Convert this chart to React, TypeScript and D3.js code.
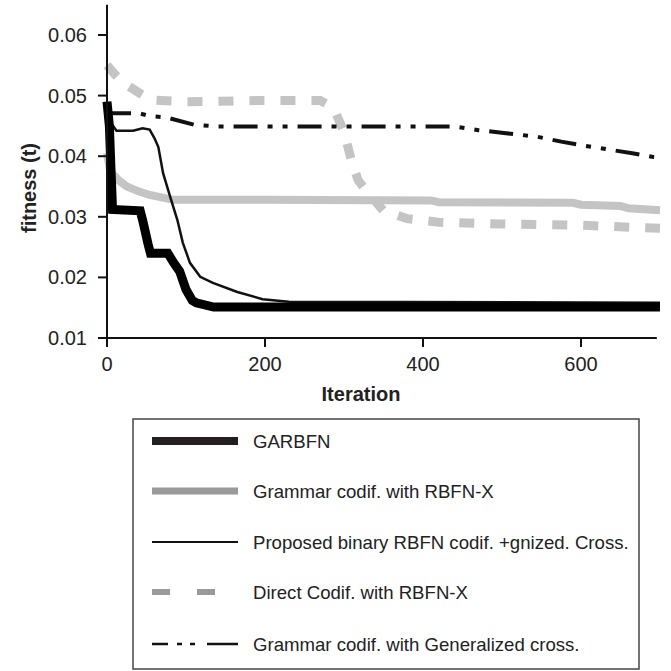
import React from 'react';
import * as d3 from 'd3';

type Pt = [number, number];

// iteration, fitness (t)
const garbfn: Pt[] = [
  [0, 0.049], [3, 0.045], [5, 0.038], [7, 0.0312], [42, 0.031], [45, 0.0295],
  [52, 0.0255], [55, 0.024], [77, 0.024], [84, 0.0225], [92, 0.021], [100, 0.018],
  [108, 0.0162], [113, 0.0158], [135, 0.0151], [700, 0.0151],
];

const grammarRbfnx: Pt[] = [
  [0, 0.0405], [4, 0.0375], [15, 0.036], [25, 0.035], [40, 0.0342], [54, 0.0336],
  [84, 0.0328], [200, 0.0328], [410, 0.0327], [420, 0.0324], [590, 0.0323],
  [600, 0.032], [650, 0.0318], [660, 0.0314], [700, 0.0311],
];

const proposedBinary: Pt[] = [
  [0, 0.0465], [5, 0.0455], [12, 0.0442], [33, 0.0442], [45, 0.0446], [54, 0.0444],
  [60, 0.043], [65, 0.0415], [71, 0.0372], [80, 0.0333], [89, 0.0295], [96, 0.0257],
  [105, 0.0224], [118, 0.0201], [134, 0.0191], [165, 0.0176], [197, 0.0164],
  [230, 0.016], [700, 0.0158],
];

const directRbfnx: Pt[] = [
  [0, 0.055], [10, 0.0535], [22, 0.052], [40, 0.0505], [55, 0.0493], [100, 0.049],
  [200, 0.0492], [270, 0.0492], [280, 0.0485], [290, 0.047], [300, 0.044],
  [310, 0.039], [318, 0.036], [330, 0.034], [350, 0.031], [380, 0.0297],
  [420, 0.0291], [500, 0.0288], [600, 0.0286], [700, 0.0281],
];

const grammarGenCross: Pt[] = [
  [0, 0.0471], [40, 0.0471], [55, 0.0466], [75, 0.0464], [110, 0.0452], [140, 0.0449],
  [440, 0.0449], [470, 0.0443], [505, 0.0438], [545, 0.0432], [575, 0.0424],
  [605, 0.0417], [640, 0.041], [665, 0.0405], [690, 0.0399], [700, 0.0398],
];

const xTicks = [0, 200, 400, 600];
const yTicks = [0.01, 0.02, 0.03, 0.04, 0.05, 0.06];

const legendLabels = [
  'GARBFN',
  'Grammar codif. with RBFN-X',
  'Proposed binary RBFN codif. +gnized. Cross.',
  'Direct Codif. with RBFN-X',
  'Grammar codif. with Generalized cross.',
];

const FONT = '"Liberation Sans", Arial, Helvetica, sans-serif';

const App = () => {
  const x = d3.scaleLinear().domain([0, 700]).range([107, 660]);
  const y = d3.scaleLinear().domain([0.01, 0.065]).range([338, 4.7]);

  const line = d3.line<Pt>()
    .x(d => x(d[0]))
    .y(d => y(d[1]));

  const x0 = x(0);
  const y0 = y(0.01);

  // legend styles, same order as labels
  const legendStyles = [
    { stroke: '#231f20', width: 8, dash: undefined },
    { stroke: '#9a9a9a', width: 7, dash: undefined },
    { stroke: '#111', width: 2, dash: undefined },
    { stroke: '#9a9a9a', width: 6, dash: '18,27' },
    { stroke: '#111', width: 2.5, dash: '16,9,5,8,5,12,40' },
  ];
  const legendY = [441, 491, 542, 592, 644];

  return (
    <div>
      <style>{'body{margin:0}'}</style>
      <svg width={671} height={671} style={{ display: 'block', fontFamily: FONT }}>
        <rect width={671} height={671} fill="#fff" />

        {/* series */}
        <path d={line(directRbfnx) ?? ''} fill="none" stroke="#c4c4c4" strokeWidth={9} strokeDasharray="15,16" />
        <path d={line(grammarRbfnx) ?? ''} fill="none" stroke="#c4c4c4" strokeWidth={8} />
        <path d={line(grammarGenCross) ?? ''} fill="none" stroke="#111" strokeWidth={4} strokeDasharray="24,10,5,10,5,10" />
        <path d={line(proposedBinary) ?? ''} fill="none" stroke="#111" strokeWidth={2.5} />
        <path d={line(garbfn) ?? ''} fill="none" stroke="#000" strokeWidth={9} />

        {/* y axis */}
        <line x1={x0} x2={x0} y1={y(0.065)} y2={y0 + 8} stroke="#111" strokeWidth={2} />
        {yTicks.map(t => (
          <g key={t} transform={`translate(0,${y(t)})`}>
            <line x1={x0 - 9} x2={x0} stroke="#111" strokeWidth={2} />
            <text x={x0 - 20} dy="0.35em" textAnchor="end" fontSize={20} fill="#222">
              {d3.format('.2f')(t)}
            </text>
          </g>
        ))}

        {/* x axis */}
        <line x1={x0 - 9} x2={x(696)} y1={y0} y2={y0} stroke="#111" strokeWidth={2} />
        {xTicks.map(t => (
          <g key={t} transform={`translate(${x(t)},0)`}>
            <line y1={y0} y2={y0 + 9} stroke="#111" strokeWidth={2} />
            <text y={y0 + 33} textAnchor="middle" fontSize={20} fill="#222">{t}</text>
          </g>
        ))}

        <text x={361} y={401} textAnchor="middle" fontSize={20} fontWeight="bold" fill="#222">Iteration</text>
        <text transform="translate(36,188) rotate(-90)" textAnchor="middle" fontSize={20} fontWeight="bold" fill="#222">
          fitness (t)
        </text>

        {/* legend */}
        <rect x={133} y={419} width={506} height={250} fill="none" stroke="#444" strokeWidth={1.5} />
        {legendLabels.map((label, i) => {
          const s = legendStyles[i];
          return (
            <g key={label}>
              <line x1={152} x2={238} y1={legendY[i]} y2={legendY[i]}
                stroke={s.stroke} strokeWidth={s.width} strokeDasharray={s.dash} />
              <text x={253} y={legendY[i]} dy="0.35em" fontSize={18.6} fill="#222">{label}</text>
            </g>
          );
        })}
      </svg>
    </div>
  );
};

export default App;
